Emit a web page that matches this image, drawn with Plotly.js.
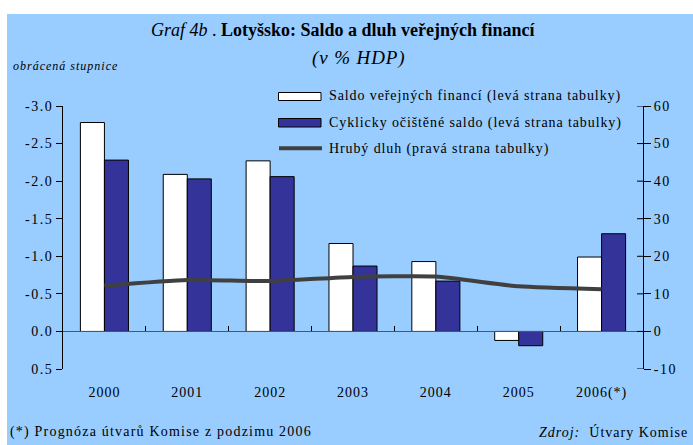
<!DOCTYPE html>
<html>
<head>
<meta charset="utf-8">
<script src="https://cdn.plot.ly/plotly-3.0.1.min.js"></script>
<style>html,body{margin:0;padding:0;background:#fff;}#chart{width:693px;height:445px;}</style>
</head>
<body>
<div id="chart"></div>
<script>
// ---- data ----
const categories = ['2000', '2001', '2002', '2003', '2004', '2005', '2006(*)'];
const saldo = [-2.78, -2.09, -2.27, -1.17, -0.93, 0.12, -0.99];
const cyclicSaldo = [-2.28, -2.03, -2.06, -0.87, -0.67, 0.19, -1.30];
const grossDebt = [12.2, 13.7, 13.4, 14.5, 14.6, 12.0, 11.2];
const leftTickVals = [-3.0, -2.5, -2.0, -1.5, -1.0, -0.5, 0.0, 0.5];
const leftTickText = ['-3.0', '-2.5', '-2.0', '-1.5', '-1.0', '-0.5', '0.0', '0.5'];
const rightTickVals = [60, 50, 40, 30, 20, 10, 0, -10];
const rightTickText = ['60', '50', '40', '30', '20', '10', '0', '-10'];
const seriesNames = ['Saldo veřejných financí (levá strana tabulky)',
                     'Cyklicky očištěné saldo (levá strana tabulky)',
                     'Hrubý dluh (pravá strana tabulky)'];

// ---- layout geometry (pixels) ----
const W = 693, H = 445;
const L = 63, R = 643, T = 106, B = 369;
const px = x => (x - L) / (R - L);
const py = y => (B - y) / (B - T);
const BG = '#99CCFF', BLUE = '#333399', LINE = '#404040';
const FONT = 'Liberation Serif, Times New Roman, serif';
const sp = (s, ls) => '<span style="letter-spacing:' + ls + 'px">' + s + '</span>';

const traces = [
  {type: 'bar', x: categories, y: saldo, name: seriesNames[0], showlegend: false,
   marker: {color: '#FFFFFF', line: {color: '#000000', width: 1}}, hoverinfo: 'y'},
  {type: 'bar', x: categories, y: cyclicSaldo, name: seriesNames[1], showlegend: false,
   marker: {color: BLUE, line: {color: '#000000', width: 1}}, hoverinfo: 'y'},
  {type: 'scatter', mode: 'lines', x: categories, y: grossDebt, yaxis: 'y2', name: seriesNames[2],
   showlegend: false, line: {color: LINE, width: 4, shape: 'spline', smoothing: 0.5}}
];

const shapes = [
  {type: 'rect', xref: 'paper', yref: 'paper', x0: px(7), x1: px(W + 2), y0: py(14), y1: py(H + 2),
   fillcolor: BG, line: {width: 0}, layer: 'below'},
  // legend swatches
  {type: 'rect', xref: 'paper', yref: 'paper', x0: px(278.5), x1: px(321), y0: py(92.5), y1: py(100.5),
   fillcolor: '#FFFFFF', line: {color: '#000', width: 1}},
  {type: 'rect', xref: 'paper', yref: 'paper', x0: px(278.5), x1: px(321), y0: py(118.5), y1: py(127),
   fillcolor: BLUE, line: {color: '#000', width: 1}},
  {type: 'line', xref: 'paper', yref: 'paper', x0: px(279), x1: px(322), y0: py(148.3), y1: py(148.3),
   line: {color: LINE, width: 4}}
];
// right axis: tick marks crossing the axis (inner half)
rightTickVals.forEach(v => {
  shapes.push({type: 'line', xref: 'paper', yref: 'y2', x0: px(637), x1: px(643), y0: v, y1: v,
               line: {color: '#000', width: 1}});
});

const annotations = [
  {xref: 'paper', yref: 'paper', x: px(343), y: py(30), xanchor: 'center', yanchor: 'middle', showarrow: false,
   text: '<i>Graf 4b</i> . <b>Lotyšsko: Saldo a dluh veřejných financí</b>', font: {family: FONT, size: 18, color: '#000'}},
  {xref: 'paper', yref: 'paper', x: px(359), y: py(58), xanchor: 'center', yanchor: 'middle', showarrow: false,
   text: '<i>' + sp('(v % HDP)', 0.9) + '</i>', font: {family: FONT, size: 19, color: '#000'}},
  {xref: 'paper', yref: 'paper', x: px(11), y: py(66), xanchor: 'left', yanchor: 'middle', showarrow: false,
   text: '<i>' + sp('obrácená stupnice', 1.0) + '</i>', font: {family: FONT, size: 12, color: '#000'}},
  {xref: 'paper', yref: 'paper', x: px(327), y: py(96.5), xanchor: 'left', yanchor: 'middle', showarrow: false,
   text: sp(seriesNames[0], 0.9), font: {family: FONT, size: 14, color: '#000'}},
  {xref: 'paper', yref: 'paper', x: px(327), y: py(122.5), xanchor: 'left', yanchor: 'middle', showarrow: false,
   text: sp(seriesNames[1], 0.9), font: {family: FONT, size: 14, color: '#000'}},
  {xref: 'paper', yref: 'paper', x: px(327), y: py(148.5), xanchor: 'left', yanchor: 'middle', showarrow: false,
   text: sp(seriesNames[2], 0.9), font: {family: FONT, size: 14, color: '#000'}},
  {xref: 'paper', yref: 'paper', x: px(8), y: py(432), xanchor: 'left', yanchor: 'middle', showarrow: false,
   text: sp('(*) Prognóza útvarů Komise z podzimu 2006', 1.2), font: {family: FONT, size: 14, color: '#000'}},
  {xref: 'paper', yref: 'paper', x: px(690), y: py(432), xanchor: 'right', yanchor: 'middle', showarrow: false,
   text: sp('<i>Zdroj:</i>  Útvary Komise', 1.0), font: {family: FONT, size: 14, color: '#000'}}
];

const layout = {
  width: W, height: H,
  margin: {l: L, r: W - R, t: T, b: H - B, pad: 0},
  paper_bgcolor: '#FFFFFF', plot_bgcolor: BG,
  font: {family: FONT, size: 14, color: '#000'},
  showlegend: false,
  barmode: 'group', bargap: 0.42, bargroupgap: 0,
  xaxis: {type: 'category', anchor: 'free', position: 0.5 / 3.5,
          tickvals: categories, ticktext: categories.map(c => sp(c, 1.0)),
          showline: true, linecolor: '#555', linewidth: 1,
          ticks: 'inside', tickson: 'boundaries', ticklen: 5, tickcolor: '#000',
          ticklabelstandoff: 48, showgrid: false, zeroline: false,
          tickfont: {family: FONT, size: 14}},
  yaxis: {range: [0.5, -3.0], tickvals: leftTickVals, ticktext: leftTickText.map(t => sp(t, 1.5)),
          showline: true, linecolor: '#000', linewidth: 1, ticks: 'outside', ticklen: 6, tickcolor: '#000',
          showgrid: false, zeroline: false, tickfont: {family: FONT, size: 14}},
  yaxis2: {range: [-10, 60], overlaying: 'y', side: 'right', tickvals: rightTickVals, ticktext: rightTickText.map(t => sp(t, 1.5)),
           showline: true, linecolor: '#000', linewidth: 1, ticks: 'outside', ticklen: 7, tickcolor: '#000',
           showgrid: false, zeroline: false, tickfont: {family: FONT, size: 14}},
  shapes: shapes,
  annotations: annotations
};

Plotly.newPlot('chart', traces, layout, {displayModeBar: false, staticPlot: true});
</script>
</body>
</html>
